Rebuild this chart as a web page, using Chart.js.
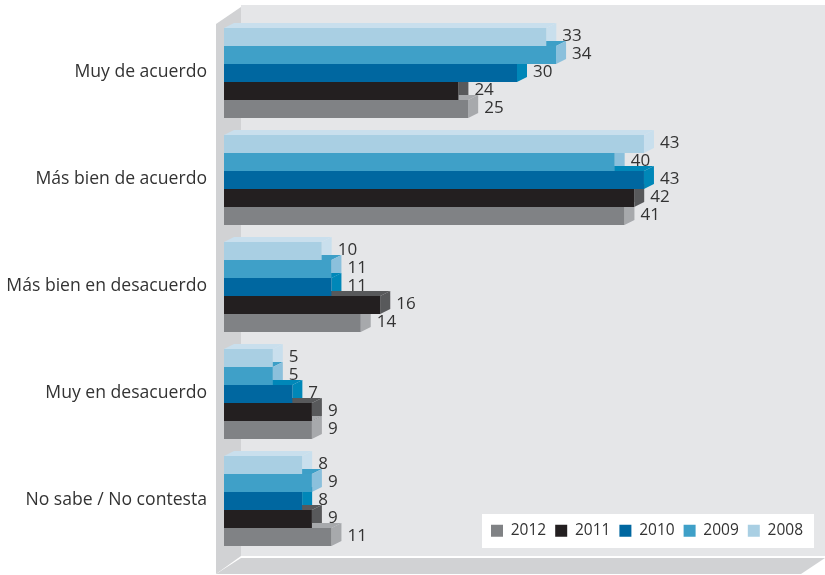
<!DOCTYPE html>
<html>
<head>
<meta charset="utf-8">
<title>Grafico</title>
<script src="https://cdn.jsdelivr.net/npm/chart.js@4"></script>
<style>
  body { margin: 0; background: #fff; }
</style>
</head>
<body>
<canvas id="grafico" width="825" height="575"></canvas>
<script>
//datos
const categorias = ["Muy de acuerdo", "Más bien de acuerdo", "Más bien en desacuerdo", "Muy en desacuerdo", "No sabe / No contesta"];
const anios = ["2008", "2009", "2010", "2011", "2012"];
const datos2008 = [33, 43, 10, 5, 8];
const datos2009 = [34, 40, 11, 5, 9];
const datos2010 = [30, 43, 11, 7, 8];
const datos2011 = [24, 42, 16, 9, 9];
const datos2012 = [25, 41, 14, 9, 11];

//colores: frente, lado y tapa de cada barra
const frente = ["#a9cfe3", "#3fa0c8", "#0067a0", "#231f20", "#808285"];
const lado = ["#c9dfed", "#8bc0dc", "#0087b8", "#58595b", "#a7a9ac"];
const tapa = ["#c9dfed", "#3d9fc7", "#0087b8", "#58595b", "#a7a9ac"];

const fuente = "'Open Sans', sans-serif";
const colorTexto = "#333333";
const fondoX = 10, fondoY = 5;

function poligono(ctx, color, puntos) {
  ctx.fillStyle = color;
  ctx.beginPath();
  puntos.forEach((p, i) => i ? ctx.lineTo(p[0], p[1]) : ctx.moveTo(p[0], p[1]));
  ctx.closePath();
  ctx.fill();
}

//paredes y piso de la caja 3D, mas el recuadro blanco de la leyenda
const caja = {
  id: "caja",
  beforeDraw(chart) {
    const ctx = chart.ctx;
    ctx.save();
    ctx.fillStyle = "#fff";
    ctx.fillRect(0, 0, 825, 575);
    ctx.fillStyle = "#e5e6e8";
    ctx.fillRect(241, 5, 584, 551);
    poligono(ctx, "#d1d2d4", [[241, 7], [241, 556], [216, 574], [216, 24]]);
    poligono(ctx, "#d1d2d4", [[241, 558], [825, 558], [801, 574], [216, 574]]);
    ctx.fillStyle = "#fff";
    ctx.fillRect(482, 514, 332, 34);
    ctx.restore();
  }
};

//lados y tapas de las barras, de arriba hacia abajo
const barras3d = {
  id: "barras3d",
  beforeDatasetsDraw(chart) {
    const ctx = chart.ctx;
    categorias.forEach((c, j) => {
      anios.forEach((a, i) => {
        const b = chart.getDatasetMeta(i).data[j];
        const arriba = b.y - b.height / 2, abajo = b.y + b.height / 2;
        poligono(ctx, tapa[i], [[b.base, arriba], [b.base + fondoX, arriba - fondoY], [b.x + fondoX, arriba - fondoY], [b.x, arriba]]);
        poligono(ctx, lado[i], [[b.x, arriba], [b.x + fondoX, arriba - fondoY], [b.x + fondoX, abajo - fondoY], [b.x, abajo]]);
      });
    });
  },
  afterDatasetsDraw(chart) {
    const ctx = chart.ctx;
    ctx.save();
    ctx.font = "17px " + fuente;
    ctx.fillStyle = colorTexto;
    ctx.textBaseline = "middle";
    chart.data.datasets.forEach((d, i) => {
      chart.getDatasetMeta(i).data.forEach((b, j) => {
        ctx.fillText(d.data[j], b.x + 16, b.y - 1);
      });
    });
    ctx.restore();
  }
};

//la leyenda no ocupa lugar, va encima del grafico
const moverLeyenda = {
  id: "moverLeyenda",
  beforeLayout(chart) {
    const l = chart.legend;
    if (!l.fitOriginal) {
      l.fitOriginal = l.fit;
      l.fit = function () {
        this.fitOriginal();
        this.height = 0;
      };
    }
  },
  afterLayout(chart) {
    const l = chart.legend;
    l.left = 482; l.right = 825; l.top = 514; l.bottom = 548;
  }
};

new Chart(document.getElementById("grafico"), {
  type: "bar",
  plugins: [caja, barras3d, moverLeyenda],
  data: {
    labels: categorias,
    datasets: [
      { label: anios[0], data: datos2008, backgroundColor: frente[0] },
      { label: anios[1], data: datos2009, backgroundColor: frente[1] },
      { label: anios[2], data: datos2010, backgroundColor: frente[2] },
      { label: anios[3], data: datos2011, backgroundColor: frente[3] },
      { label: anios[4], data: datos2012, backgroundColor: frente[4] }
    ]
  },
  options: {
    indexAxis: "y",
    responsive: false,
    animation: false,
    layout: { padding: { top: 19.5, bottom: 20.5, right: 15 } },
    categoryPercentage: 0.84,
    barPercentage: 1,
    scales: {
      x: { display: false, min: 0, max: 60 },
      y: {
        afterFit(s) {
          s.width = 224;
          s.paddingTop = 0;
          s.paddingBottom = 0;
        },
        grid: { display: false, drawTicks: false },
        border: { display: false },
        ticks: { color: colorTexto, padding: 17, labelOffset: -1, font: { family: fuente, size: 17.6 } }
      }
    },
    plugins: {
      tooltip: { enabled: false },
      legend: {
        position: "bottom",
        align: "start",
        reverse: true,
        labels: { boxWidth: 12, boxHeight: 12, padding: 9, color: colorTexto, font: { family: fuente, size: 15.5 } }
      }
    }
  }
});
</script>
</body>
</html>
